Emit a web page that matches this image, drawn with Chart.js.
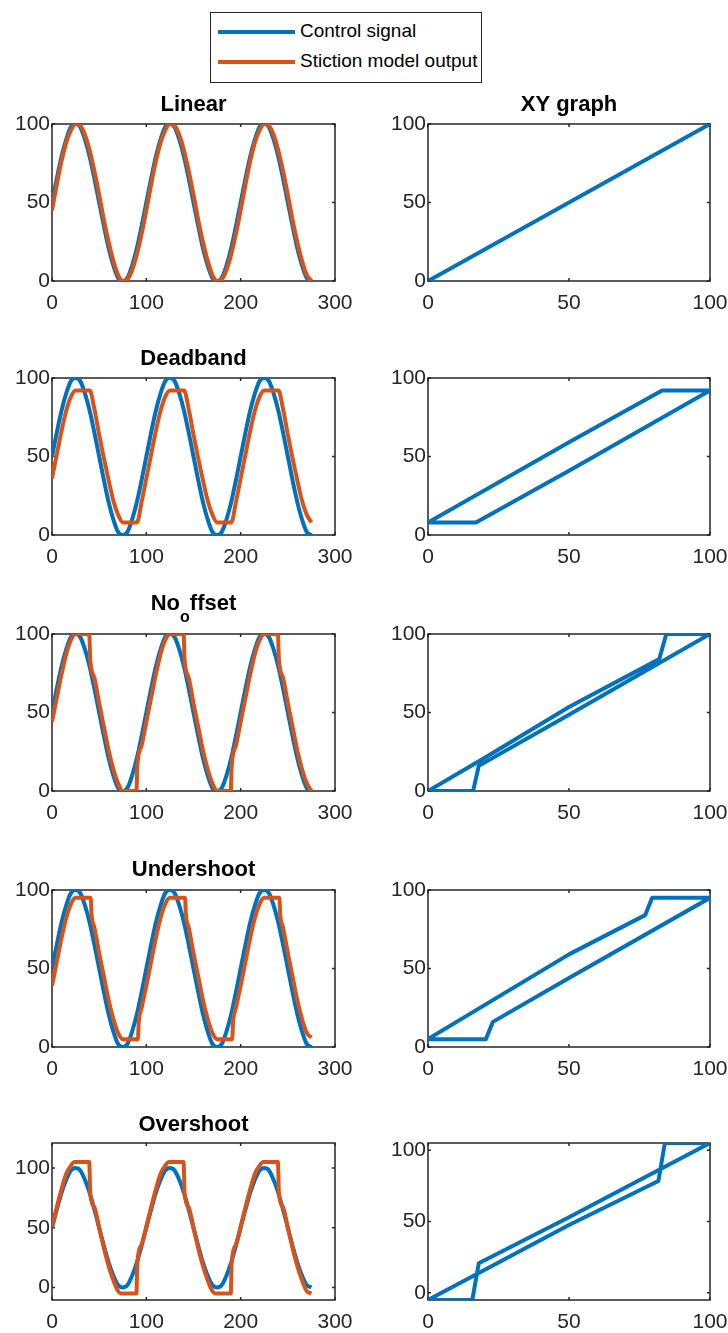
<!DOCTYPE html>
<html>
<head>
<meta charset="utf-8">
<script src="https://cdn.jsdelivr.net/npm/chart.js@4.4.1/dist/chart.umd.min.js"></script>
<style>
  html, body { margin: 0; padding: 0; background: #fff; overflow: hidden; }
  #page { position: relative; width: 728px; height: 1333px; overflow: hidden; }
  .panel { position: absolute; }
  #legend { position: absolute; left: 210px; top: 12px; width: 270px; height: 69px; border: 1px solid #262626; background: #fff; }
  .swatch { position: absolute; left: 7px; width: 77px; height: 4px; }
  .label { position: absolute; left: 89px; font: 19px 'Liberation Sans', Arial, sans-serif; line-height: 20px; color: #000; white-space: nowrap; }
</style>
</head>
<body>
<div id="page">
  <div id="legend">
    <div class="swatch" style="top:17px;background:#0072BD"></div>
    <div class="label" style="top:8px">Control signal</div>
    <div class="swatch" style="top:47px;background:#D95319"></div>
    <div class="label" style="top:38px">Stiction model output</div>
  </div>
</div>
<script>
// tick labels
const timeTicks = [0, 100, 200, 300];
const levelTicks = [0, 50, 100];
const xyTicks = [0, 50, 100];

// time axis shared by control signal, linear and deadband outputs
const time = [0,5,10,15,20,25,30,35,40,45,50,55,60,65,70,75,80,85,90,95,
  100,105,110,115,120,125,130,135,140,145,150,155,160,165,170,175,180,185,190,195,
  200,205,210,215,220,225,230,235,240,245,250,255,260,265,270,275];

const control = [50,65,79,90,98,100,98,90,79,65,50,35,21,10,2,0,2,10,21,35,
  50,65,79,90,98,100,98,90,79,65,50,35,21,10,2,0,2,10,21,35,
  50,65,79,90,98,100,98,90,79,65,50,35,21,10,2,0];

const linearOut = [45,61,76,88,96,100,99,93,83,70,55,39,25,13,4,0,1,7,17,30,
  45,61,76,88,96,100,99,93,83,70,55,39,25,13,4,0,1,7,17,30,
  45,61,76,88,96,100,99,93,83,70,55,39,25,13,4,0];

const deadbandOut = [36,51,66,79,88,92,92,92,92,80,64,49,35,22,13,8,8,8,8,21,
  36,51,66,79,88,92,92,92,92,80,64,49,35,22,13,8,8,8,8,21,
  36,51,66,79,88,92,92,92,92,80,64,49,35,22,13,8];

// outputs with jumps carry their own time points
const noOffsetTime = [0,5,10,15,20,25,30,35,39.5,40.5,45,50,55,60,65,70,75,80,85,89.5,90.5,95,
  100,105,110,115,120,125,130,135,139.5,140.5,145,150,155,160,165,170,175,180,185,189.5,190.5,195,
  200,205,210,215,220,225,230,235,239.5,240.5,245,250,255,260,265,270,275];
const noOffsetOut = [44,59,74,87,96,100,100,100,100,84,72,56,41,26,14,5,0,0,0,0,16,29,
  44,59,74,87,96,100,100,100,100,84,72,56,41,26,14,5,0,0,0,0,16,29,
  44,59,74,87,96,100,100,100,100,84,72,56,41,26,14,5,0];

const undershootTime = [0,5,10,15,20,25,30,35,41,42,45,50,55,60,65,70,75,80,85,91,92,95,
  100,105,110,115,120,125,130,135,141,142,145,150,155,160,165,170,175,180,185,191,192,195,
  200,205,210,215,220,225,230,235,241,242,245,250,255,260,265,270,275];
const undershootOut = [39,54,69,82,91,95,95,95,95,84,76,60,45,30,18,9,5,5,5,5,16,25,
  39,54,69,82,91,95,95,95,95,84,76,60,45,30,18,9,5,5,5,5,16,25,
  39,54,69,82,91,95,95,95,95,84,76,60,45,30,18,9,6];

const overshootTime = [0,5,10,15,20,24,30,35,39.5,40.5,45,50,55,60,65,70,73,80,85,89.5,90.5,95,
  100,105,110,115,120,124,130,135,139.5,140.5,145,150,155,160,165,170,173,180,185,189.5,190.5,195,
  200,205,210,215,220,224,230,235,239.5,240.5,245,250,255,260,265,270,275];
const overshootOut = [51,67,82,95,102,105,105,105,105,79,67,50,33,18,6,-3,-5,-5,-5,-5,21,36,
  51,67,82,95,102,105,105,105,105,79,67,50,33,18,6,-3,-5,-5,-5,-5,21,36,
  51,67,82,95,102,105,105,105,105,79,67,50,33,18,6,-3,-5];

// XY graphs: control (x) against model output (y), loop corners
const xyLinearX = [0, 100];
const xyLinearY = [0, 100];
const xyDeadbandX = [0, 17, 50, 100, 83, 50, 0];
const xyDeadbandY = [8, 8, 41, 92, 92, 59, 8];
const xyNoOffsetX = [0, 16, 18, 50, 100, 84.5, 82, 50, 20, 0];
const xyNoOffsetY = [0, 0, 16, 48.5, 100, 100, 84, 53.5, 21, 0];
const xyUndershootX = [0, 20.5, 23, 50, 100, 79.5, 77, 50, 0];
const xyUndershootY = [5, 5, 16, 44, 95, 95, 84, 59, 5];
const xyOvershootX = [0, 15.7, 18, 50, 100, 84, 81.7, 50, 0];
const xyOvershootY = [-5, -5, 20.7, 53, 105, 105, 78.4, 47.5, -5];

const BLUE = '#0072BD';
const ORANGE = '#D95319';
const AXIS = '#262626';
const FONT = "'Liberation Sans', Arial, sans-serif";

function pts(xs, ys){
    return xs.map((x, i) => ({ x: x, y: ys[i] }));
}

// matlab style box with inward ticks, drawn under the lines
const boxPlugin = {
    id: 'axesBox',
    beforeDatasetsDraw(chart){
        const ctx = chart.ctx, a = chart.chartArea;
        const sx = chart.scales.x, sy = chart.scales.y;
        ctx.save();
        ctx.strokeStyle = AXIS;
        ctx.lineWidth = 1.5;
        ctx.strokeRect(a.left, a.top, a.right - a.left, a.bottom - a.top);
        ctx.beginPath();
        sx.ticks.forEach(t => {
            const px = sx.getPixelForValue(t.value);
            ctx.moveTo(px, a.bottom); ctx.lineTo(px, a.bottom - 3);
            ctx.moveTo(px, a.top); ctx.lineTo(px, a.top + 3);
        });
        sy.ticks.forEach(t => {
            const py = sy.getPixelForValue(t.value);
            ctx.moveTo(a.left, py); ctx.lineTo(a.left + 3, py);
            ctx.moveTo(a.right, py); ctx.lineTo(a.right - 3, py);
        });
        ctx.stroke();
        ctx.restore();
    }
};

// bold title, with optional subscript pieces
const titlePlugin = {
    id: 'panelTitle',
    afterDraw(chart, args, opts){
        const parts = opts.parts || [];
        if(!parts.length) return;
        const ctx = chart.ctx, a = chart.chartArea;
        const fontOf = p => 'bold ' + (p.sub ? 16 : 22) + 'px ' + FONT;
        ctx.save();
        ctx.fillStyle = '#000';
        ctx.textAlign = 'left';
        ctx.textBaseline = 'alphabetic';
        const widths = [];
        let total = 0;
        parts.forEach(p => {
            ctx.font = fontOf(p);
            const w = ctx.measureText(p.text).width;
            widths.push(w);
            total += w;
        });
        let x = (a.left + a.right) / 2 - total / 2;
        const base = a.top - opts.offset;
        parts.forEach((p, i) => {
            ctx.font = fontOf(p);
            ctx.fillText(p.text, x, base + (p.sub ? 12 : 0));
            x += widths[i];
        });
        ctx.restore();
    }
};

Chart.register(boxPlugin, titlePlugin);

function axis(min, max, tickValues, isX){
    return {
        type: 'linear',
        min: min,
        max: max,
        grid: { display: false, drawTicks: false },
        border: { display: false },
        ticks: {
            color: AXIS,
            font: { family: FONT, size: 21 },
            padding: isX ? 10 : 2,
            maxRotation: 0,
            autoSkip: false
        },
        afterBuildTicks: s => { s.ticks = tickValues.map(v => ({ value: v })); },
        afterFit: s => {
            if(isX){
                s.height = 40;
                s.paddingLeft = 0;
                s.paddingRight = 0;
            } else {
                s.width = 52;
                s.paddingTop = 0;
                s.paddingBottom = 0;
            }
        }
    };
}

function makePanel(p){
    const div = document.createElement('div');
    div.className = 'panel';
    div.style.left = (p.left - 52) + 'px';
    div.style.top = (p.top - 40) + 'px';
    const canvas = document.createElement('canvas');
    canvas.width = 52 + p.width + 20;
    canvas.height = 40 + p.height + 40;
    div.appendChild(canvas);
    document.getElementById('page').appendChild(div);

    new Chart(canvas.getContext('2d'), {
        type: 'line',
        data: { datasets: p.datasets },
        options: {
            responsive: false,
            animation: false,
            devicePixelRatio: 1,
            layout: { padding: { top: 40, right: 20, left: 0, bottom: 0 } },
            elements: { point: { radius: 0 } },
            plugins: {
                legend: { display: false },
                tooltip: { enabled: false },
                panelTitle: { parts: p.title || [], offset: p.titleOffset || 13 }
            },
            scales: {
                x: axis(p.xMin, p.xMax, p.xTicks, true),
                y: axis(p.yMin, p.yMax, p.yTicks, false)
            }
        }
    });
}

function timeSets(ts, ys){
    return [
        { data: pts(ts, ys), borderColor: ORANGE, borderWidth: 4, cubicInterpolationMode: 'monotone', borderJoinStyle: 'round', order: 1 },
        { data: pts(time, control), borderColor: BLUE, borderWidth: 4, cubicInterpolationMode: 'monotone', order: 2 }
    ];
}
function xySet(xs, ys){
    return [{ data: pts(xs, ys), borderColor: BLUE, borderWidth: 4, tension: 0, borderJoinStyle: 'round' }];
}

const rowTop = [124, 378, 634, 890, 1143];
const leftCol = { left: 52, width: 283, xMin: 0, xMax: 300, xTicks: timeTicks, yTicks: levelTicks };
const rightCol = { left: 428, width: 282, xMin: 0, xMax: 100, xTicks: xyTicks, yTicks: levelTicks };

const panels = [
    Object.assign({}, leftCol, { top: rowTop[0], yMin: 0, yMax: 100, title: [{ text: 'Linear' }], datasets: timeSets(time, linearOut) }),
    Object.assign({}, rightCol, { top: rowTop[0], yMin: 0, yMax: 100, title: [{ text: 'XY graph' }], datasets: xySet(xyLinearX, xyLinearY) }),
    Object.assign({}, leftCol, { top: rowTop[1], yMin: 0, yMax: 100, title: [{ text: 'Deadband' }], titleOffset: 13, datasets: timeSets(time, deadbandOut) }),
    Object.assign({}, rightCol, { top: rowTop[1], yMin: 0, yMax: 100, datasets: xySet(xyDeadbandX, xyDeadbandY) }),
    Object.assign({}, leftCol, { top: rowTop[2], yMin: 0, yMax: 100, title: [{ text: 'No' }, { text: 'o', sub: true }, { text: 'ffset' }], titleOffset: 24, datasets: timeSets(noOffsetTime, noOffsetOut) }),
    Object.assign({}, rightCol, { top: rowTop[2], yMin: 0, yMax: 100, datasets: xySet(xyNoOffsetX, xyNoOffsetY) }),
    Object.assign({}, leftCol, { top: rowTop[3], yMin: 0, yMax: 100, title: [{ text: 'Undershoot' }], titleOffset: 14, datasets: timeSets(undershootTime, undershootOut) }),
    Object.assign({}, rightCol, { top: rowTop[3], yMin: 0, yMax: 100, datasets: xySet(xyUndershootX, xyUndershootY) }),
    Object.assign({}, leftCol, { top: rowTop[4], yMin: -10.5, yMax: 121, title: [{ text: 'Overshoot' }], titleOffset: 12, datasets: timeSets(overshootTime, overshootOut) }),
    Object.assign({}, rightCol, { top: rowTop[4], yMin: -5, yMax: 105, datasets: xySet(xyOvershootX, xyOvershootY) })
];

panels.forEach(p => { p.height = 157; makePanel(p); });
</script>
</body>
</html>
